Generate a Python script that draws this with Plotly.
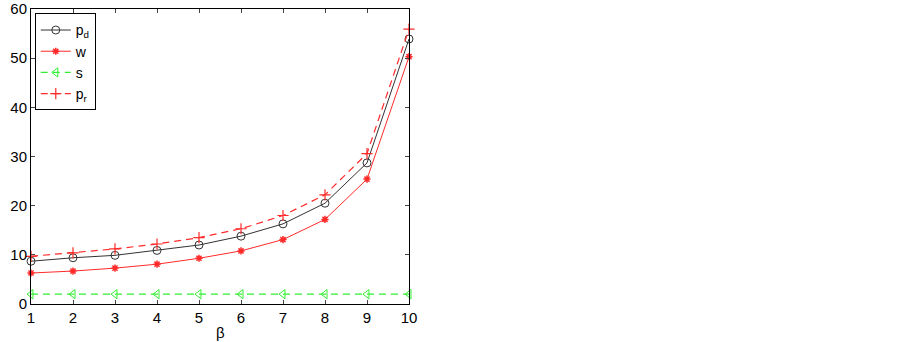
import plotly.graph_objects as go

beta = [1, 2, 3, 4, 5, 6, 7, 8, 9, 10]
p_d = [8.7, 9.4, 9.9, 10.9, 12.0, 13.8, 16.3, 20.5, 28.7, 53.9]
w = [6.3, 6.7, 7.3, 8.1, 9.3, 10.8, 13.1, 17.2, 25.4, 50.3]
s = [2.0, 2.0, 2.0, 2.0, 2.0, 2.0, 2.0, 2.0, 2.0, 2.0]
p_r = [9.7, 10.4, 11.2, 12.2, 13.5, 15.3, 18.0, 22.2, 30.6, 55.9]

fig = go.Figure()
fig.add_trace(go.Scatter(x=beta, y=p_d, name="p<sub>d</sub>", mode="lines+markers", cliponaxis=False,
                         line=dict(color="#333333", width=1),
                         marker=dict(symbol="circle-open", size=8, color="#333333", line=dict(width=1))))
fig.add_trace(go.Scatter(x=beta, y=w, name="w", mode="lines+markers", cliponaxis=False,
                         line=dict(color="#ff2a2a", width=1),
                         marker=dict(symbol="asterisk-open", size=6, color="#ff2a2a", line=dict(width=1.5))))
fig.add_trace(go.Scatter(x=beta, y=s, name="s", mode="lines+markers", cliponaxis=False,
                         line=dict(color="#33ee33", width=1.2, dash="7px,5px"),
                         marker=dict(symbol="triangle-left-open", size=8, color="#33ee33", line=dict(width=1))))
fig.add_trace(go.Scatter(x=beta, y=p_r, name="p<sub>r</sub>", mode="lines+markers", cliponaxis=False,
                         line=dict(color="#ff2a2a", width=1.2, dash="7px,5px"),
                         marker=dict(symbol="cross-thin-open", size=8, color="#ff2a2a", line=dict(width=1.2))))

fig.update_layout(
    width=903, height=342,
    margin=dict(l=31, r=494, t=9, b=38),
    paper_bgcolor="white", plot_bgcolor="white",
    font=dict(family="Liberation Sans, Arial, sans-serif", size=15, color="black"),
    showlegend=True,
    legend=dict(x=0.01, y=0.985, xanchor="left", yanchor="top",
                bordercolor="black", borderwidth=1, bgcolor="white",
                font=dict(size=14), tracegroupgap=0, itemwidth=30),
    annotations=[dict(text="β", xref="paper", yref="paper", x=0.5, y=-0.095,
                      xanchor="center", yanchor="middle", showarrow=False,
                      font=dict(size=15))],
)
fig.update_xaxes(range=[1, 10], tickvals=beta, ticks="inside", ticklen=4,
                 showline=True, linecolor="black", linewidth=1, mirror="ticks",
                 showgrid=False, zeroline=False, automargin=False)
fig.update_yaxes(range=[0, 60], tickvals=[0, 10, 20, 30, 40, 50, 60], ticks="inside", ticklen=4,
                 showline=True, linecolor="black", linewidth=1, mirror="ticks",
                 showgrid=False, zeroline=False, automargin=False)

fig.write_html("out.html", config={"displayModeBar": False},
               post_script="document.body.style.margin='0';document.body.style.overflow='hidden';")
